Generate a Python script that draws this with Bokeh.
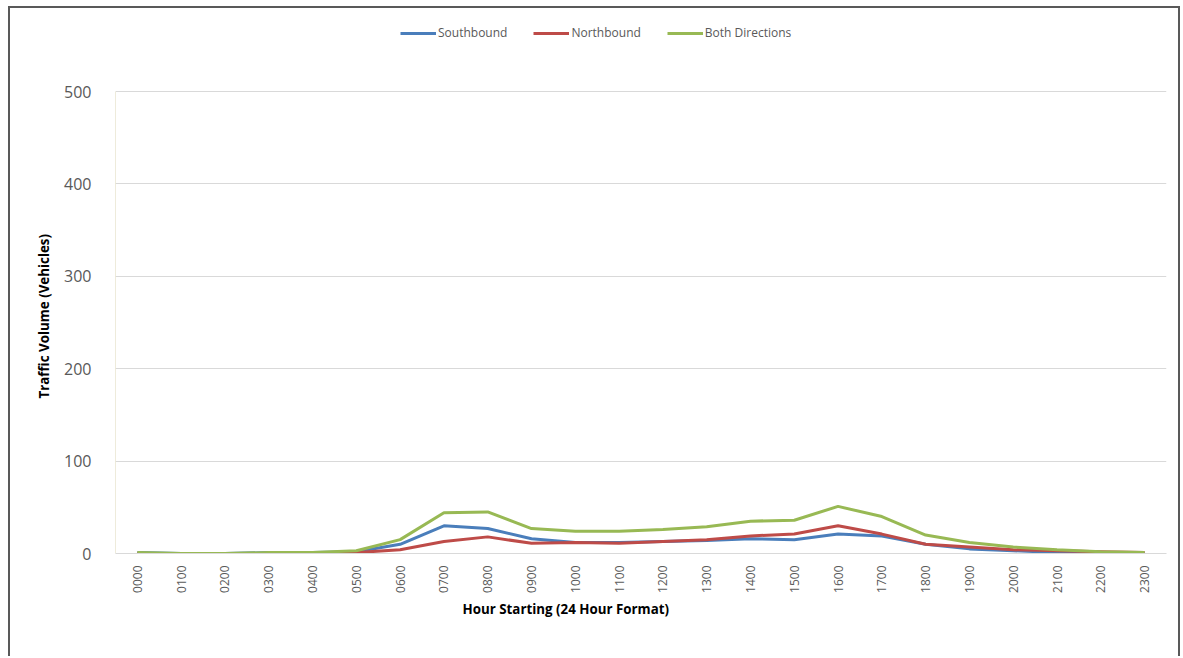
from bokeh.plotting import figure
from bokeh.models import Legend, LegendItem, FactorRange, Range1d, FixedTicker, Title
from bokeh.embed import file_html
from bokeh.resources import INLINE
import math

hours = ["0000", "0100", "0200", "0300", "0400", "0500", "0600", "0700", "0800", "0900",
         "1000", "1100", "1200", "1300", "1400", "1500", "1600", "1700", "1800", "1900",
         "2000", "2100", "2200", "2300"]
southbound = [1, 0, 0, 1, 1, 2, 10, 30, 27, 16, 12, 12, 13, 14, 16, 15, 21, 19, 10, 5, 3, 1, 0, 0]
northbound = [0, 0, 0, 0, 0, 1, 4, 13, 18, 11, 12, 11, 13, 15, 19, 21, 30, 21, 10, 7, 4, 3, 2, 1]
both = [1, 0, 0, 1, 1, 3, 15, 44, 45, 27, 24, 24, 26, 29, 35, 36, 51, 40, 20, 12, 7, 4, 2, 1]

y_ticks = [0, 100, 200, 300, 400, 500]
y_max = 500

W, H = 1172, 650
top_border, bottom_border = 12, 105
frame_h = H - top_border - bottom_border          # 533 px
axis_px = 462                                     # px used by 0..500
y_end = y_max * frame_h / axis_px

p = figure(width=W, height=H, x_range=FactorRange(*hours, range_padding=0),
           y_range=Range1d(0, y_end), output_backend="svg", toolbar_location=None,
           min_border_left=105, min_border_right=16, min_border_top=top_border,
           min_border_bottom=bottom_border)
p.margin = (6, 0, 0, 8)
p.styles = {"border-left": "2px solid #595959", "border-top": "2px solid #595959",
            "border-right": "2px solid #595959"}
p.outline_line_color = None
p.background_fill_color = "white"

# y axis line only up to the 500 mark (drawn in axis coordinates)
p.segment(x0=[0], y0=[0], x1=[0], y1=[y_max], line_color="#ddd8b8", line_width=1)

r_s = p.line(hours, southbound, line_color="#4a7ebb", line_width=3)
r_n = p.line(hours, northbound, line_color="#be4b48", line_width=3)
r_b = p.line(hours, both, line_color="#98b954", line_width=3)

legend = Legend(items=[LegendItem(label="Southbound", renderers=[r_s]),
                       LegendItem(label="Northbound", renderers=[r_n]),
                       LegendItem(label="Both Directions", renderers=[r_b])],
                orientation="horizontal", location=(285, 512),
                label_text_font="Open Sans", label_text_font_size="9pt",
                label_text_color="#595959", glyph_width=36, glyph_height=10,
                label_standoff=2, spacing=26, border_line_color=None,
                background_fill_alpha=0, padding=0, margin=0)
p.add_layout(legend, "center")

p.yaxis.ticker = FixedTicker(ticks=y_ticks)
p.yaxis.major_tick_line_color = None
p.yaxis.minor_tick_line_color = None
p.yaxis.axis_line_color = None
p.yaxis.major_label_text_font = "Open Sans"
p.yaxis.major_label_text_font_size = "12pt"
p.yaxis.major_label_text_color = "#595959"
p.yaxis.major_label_standoff = 18

p.xaxis.major_label_orientation = math.pi / 2
p.xaxis.major_tick_line_color = None
p.xaxis.axis_line_color = "#d9d9d9"
p.xaxis.major_label_text_font = "Open Sans"
p.xaxis.major_label_text_font_size = "9pt"
p.xaxis.major_label_text_color = "#595959"
p.xaxis.major_label_standoff = 6

ytitle = Title(text="Traffic Volume (Vehicles)", align="left", offset=155,
               text_font="Open Sans", text_font_style="bold", text_font_size="10pt",
               text_color="black", standoff=18)
p.add_layout(ytitle, "left")
xtitle = Title(text="Hour Starting (24 Hour Format)", align="left", offset=347,
               text_font="Open Sans", text_font_style="bold", text_font_size="10pt",
               text_color="black", standoff=4)
p.add_layout(xtitle, "below")

p.xgrid.grid_line_color = None
p.ygrid.grid_line_color = "#d9d9d9"
p.ygrid.grid_line_width = 1

open("out.html", "w").write(file_html(p, INLINE))
